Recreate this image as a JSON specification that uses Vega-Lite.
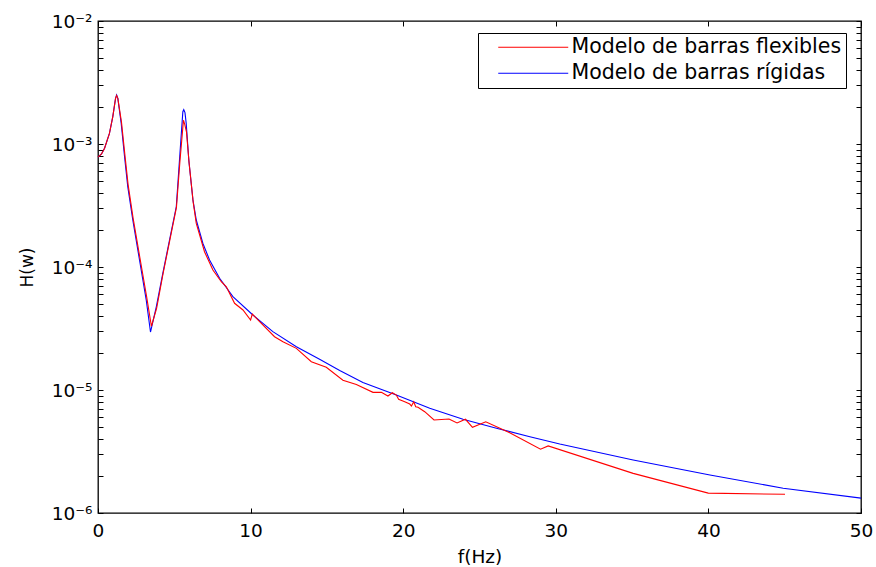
{
  "$schema": "https://vega.github.io/schema/vega-lite/v6.json",
  "autosize": "none",
  "width": 763,
  "height": 492,
  "padding": {"left": 98, "top": 21, "right": 15, "bottom": 54},
  "background": "white",
  "config": {
    "font": "DejaVu Sans",
    "view": {"stroke": "black", "strokeWidth": 1.3},
    "axis": {"domain": false, "tickColor": "black", "tickWidth": 1, "labelColor": "black", "titleColor": "black", "grid": false, "labelFont": "DejaVu Sans", "titleFont": "DejaVu Sans", "titleFontWeight": "normal"}
  },
  "datasets": {
    "curves": [
      {"f": 0.00, "H": 7.83e-4, "model": "Modelo de barras rígidas"},
      {"f": 0.23, "H": 8.30e-4, "model": "Modelo de barras rígidas"},
      {"f": 0.43, "H": 9.23e-4, "model": "Modelo de barras rígidas"},
      {"f": 0.75, "H": 1.22e-3, "model": "Modelo de barras rígidas"},
      {"f": 0.97, "H": 1.67e-3, "model": "Modelo de barras rígidas"},
      {"f": 1.15, "H": 2.35e-3, "model": "Modelo de barras rígidas"},
      {"f": 1.22, "H": 2.50e-3, "model": "Modelo de barras rígidas"},
      {"f": 1.30, "H": 2.35e-3, "model": "Modelo de barras rígidas"},
      {"f": 1.52, "H": 1.47e-3, "model": "Modelo de barras rígidas"},
      {"f": 1.74, "H": 7.88e-4, "model": "Modelo de barras rígidas"},
      {"f": 1.95, "H": 4.50e-4, "model": "Modelo de barras rígidas"},
      {"f": 2.28, "H": 2.41e-4, "model": "Modelo de barras rígidas"},
      {"f": 2.72, "H": 1.14e-4, "model": "Modelo de barras rígidas"},
      {"f": 3.16, "H": 5.40e-5, "model": "Modelo de barras rígidas"},
      {"f": 3.44, "H": 2.96e-5, "model": "Modelo de barras rígidas"},
      {"f": 3.82, "H": 4.75e-5, "model": "Modelo de barras rígidas"},
      {"f": 4.25, "H": 8.93e-5, "model": "Modelo de barras rígidas"},
      {"f": 4.69, "H": 1.66e-4, "model": "Modelo de barras rígidas"},
      {"f": 5.13, "H": 3.09e-4, "model": "Modelo de barras rígidas"},
      {"f": 5.34, "H": 7.41e-4, "model": "Modelo de barras rígidas"},
      {"f": 5.56, "H": 1.83e-3, "model": "Modelo de barras rígidas"},
      {"f": 5.62, "H": 1.90e-3, "model": "Modelo de barras rígidas"},
      {"f": 5.70, "H": 1.80e-3, "model": "Modelo de barras rígidas"},
      {"f": 5.78, "H": 1.47e-3, "model": "Modelo de barras rígidas"},
      {"f": 5.95, "H": 7.41e-4, "model": "Modelo de barras rígidas"},
      {"f": 6.22, "H": 3.51e-4, "model": "Modelo de barras rígidas"},
      {"f": 6.44, "H": 2.41e-4, "model": "Modelo de barras rígidas"},
      {"f": 6.87, "H": 1.56e-4, "model": "Modelo de barras rígidas"},
      {"f": 7.31, "H": 1.14e-4, "model": "Modelo de barras rígidas"},
      {"f": 7.97, "H": 8.09e-5, "model": "Modelo de barras rígidas"},
      {"f": 8.84, "H": 5.74e-5, "model": "Modelo de barras rígidas"},
      {"f": 10.15, "H": 4.07e-5, "model": "Modelo de barras rígidas"},
      {"f": 11.46, "H": 2.98e-5, "model": "Modelo de barras rígidas"},
      {"f": 13.00, "H": 2.25e-5, "model": "Modelo de barras rígidas"},
      {"f": 14.52, "H": 1.78e-5, "model": "Modelo de barras rígidas"},
      {"f": 15.84, "H": 1.44e-5, "model": "Modelo de barras rígidas"},
      {"f": 17.36, "H": 1.15e-5, "model": "Modelo de barras rígidas"},
      {"f": 19.55, "H": 9.10e-6, "model": "Modelo de barras rígidas"},
      {"f": 21.74, "H": 7.10e-6, "model": "Modelo de barras rígidas"},
      {"f": 23.92, "H": 5.78e-6, "model": "Modelo de barras rígidas"},
      {"f": 26.11, "H": 4.89e-6, "model": "Modelo de barras rígidas"},
      {"f": 28.30, "H": 4.17e-6, "model": "Modelo de barras rígidas"},
      {"f": 30.26, "H": 3.64e-6, "model": "Modelo de barras rígidas"},
      {"f": 35.07, "H": 2.70e-6, "model": "Modelo de barras rígidas"},
      {"f": 40.10, "H": 2.04e-6, "model": "Modelo de barras rígidas"},
      {"f": 44.90, "H": 1.59e-6, "model": "Modelo de barras rígidas"},
      {"f": 50.00, "H": 1.32e-6, "model": "Modelo de barras rígidas"},

      {"f": 0.00, "H": 7.83e-4, "model": "Modelo de barras flexibles"},
      {"f": 0.23, "H": 8.30e-4, "model": "Modelo de barras flexibles"},
      {"f": 0.43, "H": 9.23e-4, "model": "Modelo de barras flexibles"},
      {"f": 0.75, "H": 1.22e-3, "model": "Modelo de barras flexibles"},
      {"f": 0.97, "H": 1.67e-3, "model": "Modelo de barras flexibles"},
      {"f": 1.15, "H": 2.35e-3, "model": "Modelo de barras flexibles"},
      {"f": 1.22, "H": 2.48e-3, "model": "Modelo de barras flexibles"},
      {"f": 1.30, "H": 2.35e-3, "model": "Modelo de barras flexibles"},
      {"f": 1.54, "H": 1.50e-3, "model": "Modelo de barras flexibles"},
      {"f": 1.76, "H": 8.20e-4, "model": "Modelo de barras flexibles"},
      {"f": 1.97, "H": 4.70e-4, "model": "Modelo de barras flexibles"},
      {"f": 2.30, "H": 2.50e-4, "model": "Modelo de barras flexibles"},
      {"f": 2.74, "H": 1.20e-4, "model": "Modelo de barras flexibles"},
      {"f": 3.18, "H": 5.80e-5, "model": "Modelo de barras flexibles"},
      {"f": 3.50, "H": 3.30e-5, "model": "Modelo de barras flexibles"},
      {"f": 3.84, "H": 4.60e-5, "model": "Modelo de barras flexibles"},
      {"f": 4.26, "H": 8.80e-5, "model": "Modelo de barras flexibles"},
      {"f": 4.70, "H": 1.64e-4, "model": "Modelo de barras flexibles"},
      {"f": 5.14, "H": 3.05e-4, "model": "Modelo de barras flexibles"},
      {"f": 5.36, "H": 7.00e-4, "model": "Modelo de barras flexibles"},
      {"f": 5.60, "H": 1.56e-3, "model": "Modelo de barras flexibles"},
      {"f": 5.68, "H": 1.45e-3, "model": "Modelo de barras flexibles"},
      {"f": 5.80, "H": 1.25e-3, "model": "Modelo de barras flexibles"},
      {"f": 5.97, "H": 7.00e-4, "model": "Modelo de barras flexibles"},
      {"f": 6.24, "H": 3.35e-4, "model": "Modelo de barras flexibles"},
      {"f": 6.44, "H": 2.26e-4, "model": "Modelo de barras flexibles"},
      {"f": 6.98, "H": 1.33e-4, "model": "Modelo de barras flexibles"},
      {"f": 7.53, "H": 9.46e-5, "model": "Modelo de barras flexibles"},
      {"f": 8.08, "H": 7.59e-5, "model": "Modelo de barras flexibles"},
      {"f": 8.41, "H": 6.91e-5, "model": "Modelo de barras flexibles"},
      {"f": 8.95, "H": 5.07e-5, "model": "Modelo de barras flexibles"},
      {"f": 9.50, "H": 4.47e-5, "model": "Modelo de barras flexibles"},
      {"f": 10.00, "H": 3.71e-5, "model": "Modelo de barras flexibles"},
      {"f": 10.11, "H": 4.15e-5, "model": "Modelo de barras flexibles"},
      {"f": 10.59, "H": 3.59e-5, "model": "Modelo de barras flexibles"},
      {"f": 11.57, "H": 2.71e-5, "model": "Modelo de barras flexibles"},
      {"f": 12.12, "H": 2.47e-5, "model": "Modelo de barras flexibles"},
      {"f": 13.00, "H": 2.18e-5, "model": "Modelo de barras flexibles"},
      {"f": 13.98, "H": 1.70e-5, "model": "Modelo de barras flexibles"},
      {"f": 14.96, "H": 1.53e-5, "model": "Modelo de barras flexibles"},
      {"f": 16.05, "H": 1.20e-5, "model": "Modelo de barras flexibles"},
      {"f": 16.93, "H": 1.11e-5, "model": "Modelo de barras flexibles"},
      {"f": 18.02, "H": 9.57e-6, "model": "Modelo de barras flexibles"},
      {"f": 18.57, "H": 9.57e-6, "model": "Modelo de barras flexibles"},
      {"f": 19.00, "H": 8.93e-6, "model": "Modelo de barras flexibles"},
      {"f": 19.29, "H": 9.50e-6, "model": "Modelo de barras flexibles"},
      {"f": 19.55, "H": 9.10e-6, "model": "Modelo de barras flexibles"},
      {"f": 19.70, "H": 8.39e-6, "model": "Modelo de barras flexibles"},
      {"f": 20.10, "H": 8.03e-6, "model": "Modelo de barras flexibles"},
      {"f": 20.43, "H": 7.69e-6, "model": "Modelo de barras flexibles"},
      {"f": 20.54, "H": 7.41e-6, "model": "Modelo de barras flexibles"},
      {"f": 20.69, "H": 8.03e-6, "model": "Modelo de barras flexibles"},
      {"f": 20.82, "H": 7.31e-6, "model": "Modelo de barras flexibles"},
      {"f": 20.97, "H": 7.23e-6, "model": "Modelo de barras flexibles"},
      {"f": 21.41, "H": 6.66e-6, "model": "Modelo de barras flexibles"},
      {"f": 22.02, "H": 5.70e-6, "model": "Modelo de barras flexibles"},
      {"f": 23.00, "H": 5.81e-6, "model": "Modelo de barras flexibles"},
      {"f": 23.53, "H": 5.39e-6, "model": "Modelo de barras flexibles"},
      {"f": 24.08, "H": 5.78e-6, "model": "Modelo de barras flexibles"},
      {"f": 24.54, "H": 4.98e-6, "model": "Modelo de barras flexibles"},
      {"f": 25.41, "H": 5.52e-6, "model": "Modelo de barras flexibles"},
      {"f": 26.98, "H": 4.50e-6, "model": "Modelo de barras flexibles"},
      {"f": 29.00, "H": 3.30e-6, "model": "Modelo de barras flexibles"},
      {"f": 29.50, "H": 3.51e-6, "model": "Modelo de barras flexibles"},
      {"f": 35.07, "H": 2.10e-6, "model": "Modelo de barras flexibles"},
      {"f": 39.99, "H": 1.45e-6, "model": "Modelo de barras flexibles"},
      {"f": 45.02, "H": 1.42e-6, "model": "Modelo de barras flexibles"}
    ]
  },
  "data": {"name": "curves"},
  "encoding": {
    "x": {"field": "f", "type": "quantitative", "scale": {"domain": [0, 50], "nice": false, "zero": false}},
    "y": {"field": "H", "type": "quantitative", "scale": {"type": "log", "domain": [1e-6, 1e-2], "nice": false}}
  },
  "layer": [
    {
      "mark": {"type": "line", "strokeWidth": 1.1, "interpolate": "linear"},
      "encoding": {
        "x": {"field": "f", "type": "quantitative", "title": "f(Hz)",
          "axis": {"orient": "bottom", "offset": -5, "values": [0, 10, 20, 30, 40, 50], "tickSize": 5, "labelPadding": 8, "labelFontSize": 18.5, "titleFontSize": 18.5, "titlePadding": 8, "labelFlush": false}},
        "y": {"field": "H", "type": "quantitative", "title": "H(w)",
          "axis": {"orient": "left", "offset": -5,
            "values": [1e-6, 2e-6, 3e-6, 4e-6, 5e-6, 6e-6, 7e-6, 8e-6, 9e-6, 1e-5, 2e-5, 3e-5, 4e-5, 5e-5, 6e-5, 7e-5, 8e-5, 9e-5, 1e-4, 2e-4, 3e-4, 4e-4, 5e-4, 6e-4, 7e-4, 8e-4, 9e-4, 1e-3, 2e-3, 3e-3, 4e-3, 5e-3, 6e-3, 7e-3, 8e-3, 9e-3, 1e-2],
            "labelExpr": "abs(log(datum.value)/LN10 - round(log(datum.value)/LN10)) < 0.001 ? ('10' + (round(log(datum.value)/LN10) == -2 ? '⁻²' : round(log(datum.value)/LN10) == -3 ? '⁻³' : round(log(datum.value)/LN10) == -4 ? '⁻⁴' : round(log(datum.value)/LN10) == -5 ? '⁻⁵' : '⁻⁶')) : ''",
            "labelOverlap": false, "labelBound": false, "labelFlush": false,
            "tickSize": 5, "labelPadding": 6, "labelFontSize": 18.5, "titleFontSize": 17, "titlePadding": 15}},
        "color": {"field": "model", "type": "nominal",
          "scale": {"domain": ["Modelo de barras flexibles", "Modelo de barras rígidas"], "range": ["#ff0000", "#0000ff"]},
          "legend": {"orient": "none", "legendX": 380, "legendY": 12, "title": null, "strokeColor": "black", "fillColor": "white", "padding": 4, "labelFontSize": 20.5, "labelFont": "DejaVu Sans", "symbolType": "M0.857,0H10.857", "symbolSize": 196, "symbolStrokeWidth": 1, "labelOffset": 69, "rowPadding": 5, "offset": 0, "labelLimit": 400}}
      }
    },
    {
      "mark": {"type": "point", "opacity": 0},
      "encoding": {
        "x": {"field": "f", "type": "quantitative",
          "axis": {"orient": "top", "offset": -5, "values": [0, 10, 20, 30, 40, 50], "tickSize": 5, "labels": false, "title": null}},
        "y": {"field": "H", "type": "quantitative",
          "axis": {"orient": "right", "offset": -5,
            "values": [1e-6, 2e-6, 3e-6, 4e-6, 5e-6, 6e-6, 7e-6, 8e-6, 9e-6, 1e-5, 2e-5, 3e-5, 4e-5, 5e-5, 6e-5, 7e-5, 8e-5, 9e-5, 1e-4, 2e-4, 3e-4, 4e-4, 5e-4, 6e-4, 7e-4, 8e-4, 9e-4, 1e-3, 2e-3, 3e-3, 4e-3, 5e-3, 6e-3, 7e-3, 8e-3, 9e-3, 1e-2],
            "tickSize": 5, "labels": false, "title": null}}
      }
    }
  ],
  "resolve": {"axis": {"x": "independent", "y": "independent"}}
}
